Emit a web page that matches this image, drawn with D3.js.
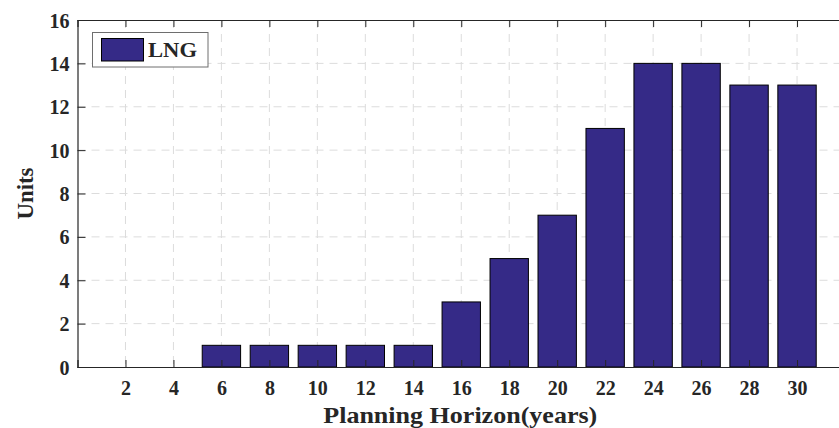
<!DOCTYPE html>
<html>
<head>
<meta charset="utf-8">
<script src="https://cdn.jsdelivr.net/npm/d3@7"></script>
<style>
  html, body { margin: 0; padding: 0; background: #fff; }
  svg { display: block; }
  text { font-family: "Liberation Serif", "Times New Roman", serif; font-weight: bold; fill: #262626; }
</style>
</head>
<body>
<svg id="chart" width="839" height="428"></svg>
<script>
// Planning horizon (years) and installed LNG units
const years = [2, 4, 6, 8, 10, 12, 14, 16, 18, 20, 22, 24, 26, 28, 30];
const lngUnits = [0, 0, 1, 1, 1, 1, 1, 3, 5, 7, 11, 14, 14, 13, 13];
const yTicks = [0, 2, 4, 6, 8, 10, 12, 14, 16];
const seriesName = "LNG";
const xTitle = "Planning Horizon(years)";
const yTitle = "Units";

const svg = d3.select("#chart");
const plot = { left: 77.5, right: 845, top: 20, bottom: 367 };

const x = d3.scaleLinear().domain([0, 32]).range([plot.left, plot.right]);
const y = d3.scaleLinear().domain([0, 16]).range([plot.bottom, plot.top]);
const barW = x(1.6) - x(0);

const grid = svg.append("g")
  .attr("stroke", "#dcdcdc").attr("stroke-width", 1).attr("stroke-dasharray", "8,6");
grid.selectAll("line.v").data(years).join("line")
  .attr("x1", d => x(d)).attr("x2", d => x(d)).attr("y1", plot.top).attr("y2", plot.bottom);
grid.selectAll("line.h").data(yTicks.slice(1, -1)).join("line")
  .attr("x1", plot.left).attr("x2", plot.right).attr("y1", d => y(d)).attr("y2", d => y(d));

// Bars
svg.append("g").selectAll("rect").data(years.map((yr, i) => ({ yr, v: lngUnits[i] })).filter(d => d.v > 0))
  .join("rect")
  .attr("x", d => x(d.yr) - barW / 2)
  .attr("y", d => y(d.v))
  .attr("width", barW)
  .attr("height", d => y(0) - y(d.v))
  .attr("fill", "#352a87")
  .attr("stroke", "#000")
  .attr("stroke-width", 1);

// Axes
const axisColor = "#262626";
const xAxis = svg.append("g").attr("transform", `translate(0,${plot.bottom})`)
  .call(d3.axisBottom(x).tickValues(years).tickSize(-7).tickPadding(14).tickFormat(d3.format("d")));
const xTop = svg.append("g").attr("transform", `translate(0,${plot.top})`)
  .call(d3.axisTop(x).tickValues(years).tickSize(-7).tickFormat(""));
const yAxis = svg.append("g").attr("transform", `translate(${plot.left},0)`)
  .call(d3.axisLeft(y).tickValues(yTicks).tickSize(-8).tickPadding(8));
[xAxis, xTop, yAxis].forEach(g => {
  g.select(".domain").attr("stroke", axisColor).attr("stroke-width", 1.2);
  g.selectAll(".tick line").attr("stroke", axisColor).attr("stroke-width", 1);
  g.selectAll(".tick text").style("font-size", "20px").attr("fill", "#262626");
});
yAxis.selectAll(".tick text").attr("dy", "0.35em");
xAxis.selectAll(".tick text").attr("dy", "0.68em");

// Axis titles
svg.append("text")
  .attr("x", (plot.left + plot.right) / 2 - 1).attr("y", 423)
  .attr("text-anchor", "middle").style("font-size", "24px")
  .attr("textLength", 274).attr("lengthAdjust", "spacingAndGlyphs")
  .text(xTitle);
svg.append("text")
  .attr("transform", `translate(33,${(plot.top + plot.bottom) / 2}) rotate(-90)`)
  .attr("text-anchor", "middle").style("font-size", "24px")
  .attr("textLength", 52).attr("lengthAdjust", "spacingAndGlyphs")
  .text(yTitle);

// Legend
const lg = svg.append("g");
lg.append("rect").attr("x", 92.5).attr("y", 32.5).attr("width", 115.5).attr("height", 34.5)
  .attr("fill", "#fff").attr("stroke", "#6e6e6e").attr("stroke-width", 1);
lg.append("rect").attr("x", 101.5).attr("y", 38.5).attr("width", 42).attr("height", 22.5)
  .attr("fill", "#352a87").attr("stroke", "#000").attr("stroke-width", 1);
lg.append("text").attr("x", 148).attr("y", 57).style("font-size", "22px").attr("fill", "#000")
  .attr("textLength", 49).attr("lengthAdjust", "spacingAndGlyphs")
  .text(seriesName);
</script>
</body>
</html>
